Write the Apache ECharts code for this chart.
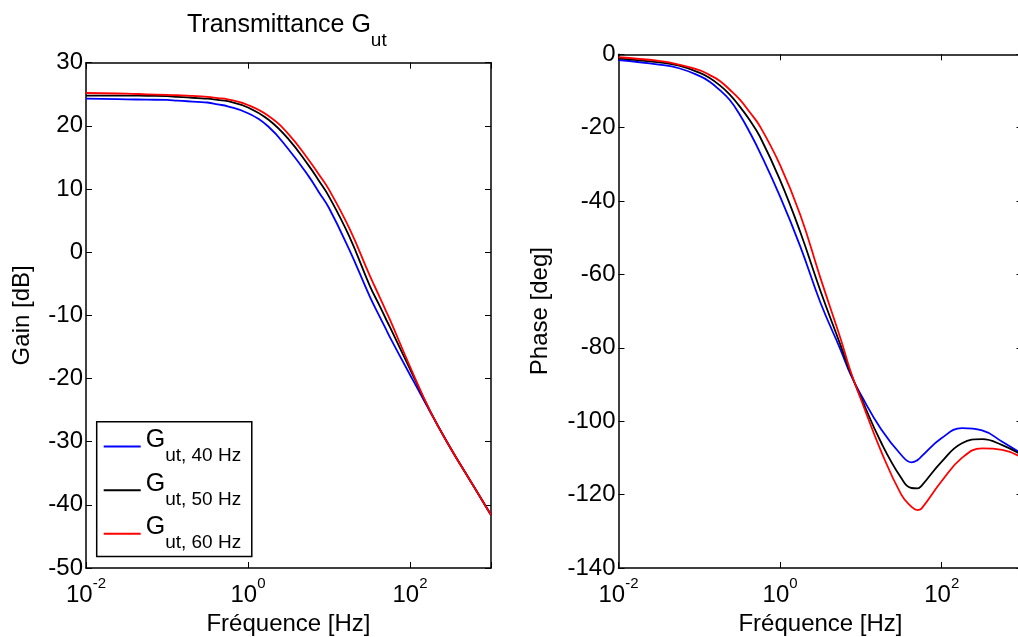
<!DOCTYPE html>
<html><head><meta charset="utf-8">
<script src="https://cdn.jsdelivr.net/npm/echarts@6/dist/echarts.min.js"></script>
<style>html,body{margin:0;padding:0;background:#fff;}#c{width:1018px;height:637px;}</style>
</head><body><div id="c"></div>
<script>
// Frequencies (Hz), sampled on the reference curves
const freqHz = [0.01, 0.0316, 0.0562, 0.1, 0.133, 0.178, 0.237, 0.316, 0.422, 0.562, 1, 1.78, 3.16, 5.62, 7.5, 10, 17.8, 31.6, 42.2, 50.1, 56.2, 100, 178, 316, 562, 1000];

// Gain [dB]
const gain40 = [24.3, 24.2, 24.15, 24.1, 24.0, 23.9, 23.8, 23.7, 23.4, 23.1, 22.0, 19.9, 16.3, 12.0, 9.5, 7.0, 0.4, -6.9, -10.2, -12.1, -13.4, -19.4, -25.3, -31.0, -36.3, -41.6];
const gain50 = [24.8, 24.8, 24.75, 24.7, 24.6, 24.5, 24.4, 24.3, 24.1, 23.9, 22.9, 21.0, 17.9, 13.7, 11.3, 8.8, 2.5, -5.2, -8.5, -10.5, -11.8, -18.5, -25.2, -31.0, -36.3, -41.6];
const gain60 = [25.2, 25.1, 25.0, 24.9, 24.85, 24.8, 24.7, 24.6, 24.4, 24.2, 23.3, 21.6, 18.7, 14.6, 12.3, 9.9, 3.8, -3.6, -7.1, -9.2, -10.6, -18.1, -25.2, -31.0, -36.3, -41.6];

// Phase [deg]
const phase40 = [-1.55, -2.8, -3.8, -5.9, -7.4, -9.7, -12.4, -16.4, -21.3, -26.7, -38.8, -52.4, -67.7, -80.6, -87.4, -92.8, -102.2, -109.2, -111.2, -110.6, -109.6, -104.6, -101.9, -102.5, -105.6, -109.0];
const phase50 = [-1.1, -2.2, -3.1, -5.0, -6.4, -8.4, -10.9, -14.2, -18.0, -22.4, -34.3, -48.5, -64.5, -79.4, -87.0, -93.5, -105.8, -115.5, -118.2, -118.3, -117.6, -111.0, -106.0, -104.9, -106.5, -109.3];
const phase60 = [-0.8, -1.8, -2.8, -4.3, -5.6, -7.2, -9.6, -12.3, -15.8, -19.6, -30.2, -43.8, -61.0, -77.6, -86.6, -94.0, -108.2, -120.0, -123.3, -124.2, -123.8, -116.3, -110.0, -107.4, -107.8, -110.0];

// Labels
const seriesNames = ['G_ut, 40 Hz', 'G_ut, 50 Hz', 'G_ut, 60 Hz'];
const legendSubs = ['ut, 40 Hz', 'ut, 50 Hz', 'ut, 60 Hz'];
const seriesColors = ['#0000ff', '#000000', '#ff0000'];
const xTickExponents = [-2, 0, 2];
const gainAxis = [-50, 30, 10];
const phaseAxis = [-140, 0, 20];
const titleMain = 'Transmittance G';
const titleSub = 'ut';
const xName = 'Fréquence [Hz]';
const gainName = 'Gain [dB]';
const phaseName = 'Phase [deg]';

const FONT = 'Liberation Sans, Arial, Helvetica, sans-serif';
const lineCol = '#000';

function xAxes(grid) {
  const common = {
    gridIndex: grid, type: 'log', logBase: 100, min: 0.01, max: 1000,
    axisLine: { show: true, onZero: false, lineStyle: { color: lineCol, width: 1.5 } },
    axisTick: { show: true, inside: true, length: 6, lineStyle: { color: lineCol, width: 1 } },
    splitLine: { show: false }, minorTick: { show: false }, minorSplitLine: { show: false }
  };
  return [
    Object.assign({}, common, {
      position: 'bottom',
      axisLabel: {
        margin: 8,
        formatter: function (v) {
          const e = Math.round(Math.log10(v));
          return xTickExponents.indexOf(e) >= 0 ? '{b|10}{s|' + e + '}' : '';
        },
        rich: {
          b: { fontSize: 24, lineHeight: 31, verticalAlign: 'bottom', color: '#000', fontFamily: FONT },
          s: { fontSize: 15, lineHeight: 15, verticalAlign: 'top', color: '#000', fontFamily: FONT }
        }
      },
      name: xName, nameLocation: 'middle', nameGap: 42,
      nameTextStyle: { fontSize: 24, color: '#000', fontFamily: FONT, verticalAlign: 'top' }
    }),
    Object.assign({}, common, { position: 'top', axisLabel: { show: false } })
  ];
}

function yAxes(grid, rng, name, gap) {
  const common = {
    gridIndex: grid, type: 'value', min: rng[0], max: rng[1], interval: rng[2],
    axisLine: { show: true, onZero: false, lineStyle: { color: lineCol, width: 1.5 } },
    axisTick: { show: true, inside: true, length: 6, lineStyle: { color: lineCol, width: 1 } },
    splitLine: { show: false }
  };
  return [
    Object.assign({}, common, {
      position: 'left',
      axisLabel: { margin: 3, fontSize: 24, color: '#000', fontFamily: FONT },
      name: name, nameLocation: 'middle', nameGap: gap,
      nameTextStyle: { fontSize: 24, color: '#000', fontFamily: FONT }
    }),
    Object.assign({}, common, { position: 'right', axisLabel: { show: false } })
  ];
}

function mkSeries(vals, idx, axisBase) {
  return {
    type: 'line', name: seriesNames[idx],
    xAxisIndex: axisBase, yAxisIndex: axisBase,
    data: freqHz.map((f, i) => [f, vals[i]]),
    showSymbol: false, symbol: 'none', smooth: 0.45,
    lineStyle: { color: seriesColors[idx], width: 1.8 },
    itemStyle: { color: seriesColors[idx] },
    emphasis: { disabled: true }, z: 2 + idx
  };
}

const chart = echarts.init(document.getElementById('c'), null, { renderer: 'canvas' });
chart.setOption({
  animation: false,
  backgroundColor: '#fff',
  textStyle: { fontFamily: FONT },
  title: {
    text: '{m|' + titleMain + '}{s|' + titleSub + '}',
    left: 187, top: 12.6, padding: 0,
    textStyle: {
      fontWeight: 'normal',
      rich: {
        m: { fontSize: 25, lineHeight: 25, verticalAlign: 'top', fontWeight: 'normal', color: '#000', fontFamily: FONT },
        s: { fontSize: 19, lineHeight: 37.9, verticalAlign: 'bottom', fontWeight: 'normal', color: '#000', fontFamily: FONT }
      }
    }
  },
  legend: {
    orient: 'vertical', left: 96.7, top: 421.7,
    itemWidth: 37, itemHeight: 2, icon: 'rect', itemGap: 6.2,
    padding: [6, 10.6, 4, 7],
    borderColor: '#000', borderWidth: 1.5, backgroundColor: '#fff',
    data: seriesNames,
    selectedMode: false,
    formatter: function (name) { return '{g|G}{s|' + legendSubs[seriesNames.indexOf(name)] + '}'; },
    textStyle: {
      color: '#000', fontFamily: FONT,
      rich: {
        g: { fontSize: 25, lineHeight: 25, verticalAlign: 'top', color: '#000', fontFamily: FONT },
        s: { fontSize: 19, lineHeight: 37.5, verticalAlign: 'bottom', color: '#000', fontFamily: FONT }
      }
    }
  },
  grid: [
    { left: 86, top: 62.7, width: 405, height: 505.3, outerBoundsMode: 'none', containLabel: false },
    { left: 618.5, top: 54.3, width: 404, height: 513.7, outerBoundsMode: 'none', containLabel: false }
  ],
  xAxis: xAxes(0).concat(xAxes(1)),
  yAxis: yAxes(0, gainAxis, gainName, 52).concat(yAxes(1, phaseAxis, phaseName, 66)),
  series: [
    mkSeries(gain40, 0, 0), mkSeries(gain50, 1, 0), mkSeries(gain60, 2, 0),
    mkSeries(phase40, 0, 2), mkSeries(phase50, 1, 2), mkSeries(phase60, 2, 2)
  ]
});
</script></body></html>
